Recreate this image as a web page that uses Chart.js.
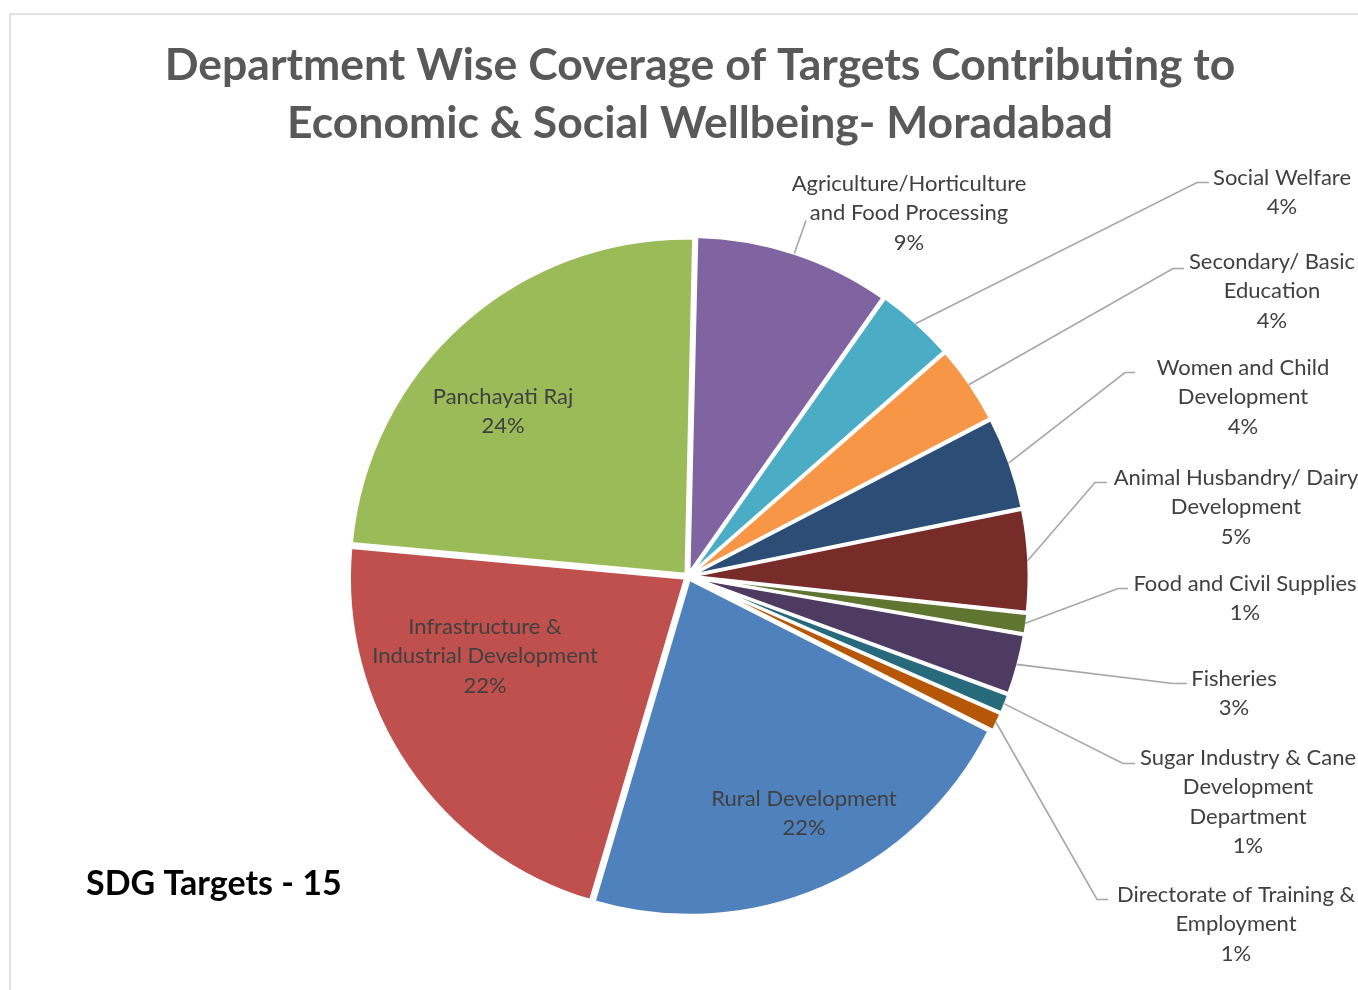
<!DOCTYPE html>
<html><head><meta charset="utf-8">
<script src="https://cdn.jsdelivr.net/npm/chart.js@4"></script>
<style>html,body{margin:0;padding:0;background:#fff}#wrap{position:relative;width:1358px;height:990px}</style>
</head><body><div id="wrap"><canvas id="c"></canvas></div>
<script>
// ---- data ----
const departments = [
  ["Agriculture/Horticulture", "and Food Processing"],
  ["Social Welfare"],
  ["Secondary/ Basic", "Education"],
  ["Women and Child", "Development"],
  ["Animal Husbandry/ Dairy", "Development"],
  ["Food and Civil Supplies"],
  ["Fisheries"],
  ["Sugar Industry & Cane", "Development", "Department"],
  ["Directorate of Training &", "Employment"],
  ["Rural Development"],
  ["Infrastructure &", "Industrial Development"],
  ["Panchayati Raj"]
];
const shares = [9.4, 3.8, 3.8, 4.45, 4.9, 1.0, 2.9, 0.95, 0.9, 22.1, 21.9, 23.9];
const colors = ["#8064A2", "#4BACC6", "#F79646", "#2C4D75", "#772C2A", "#5F7530",
                "#4D3B62", "#276A7C", "#B65708", "#4F81BD", "#C0504D", "#9BBB59"];
const titleLines = ["Department Wise Coverage of Targets Contributing to",
                    "Economic & Social Wellbeing- Moradabad"];
const noteText = "SDG Targets - 15";

// ---- label placement (relative to pie centre) ----
const labelLayout = [
  {cx: 221, cy: -394, elbow: [118, -356], end: 118},
  {cx: 594, cy: -400, elbow: [509, -394], end: 521},
  {cx: 584, cy: -316, elbow: [485, -308], end: 496},
  {cx: 555, cy: -210, elbow: [437, -204], end: 447},
  {cx: 548, cy: -100, elbow: [407, -94], end: 419},
  {cx: 557, cy: 6, elbow: [430, 12], end: 440},
  {cx: 546, cy: 101, elbow: [485, 107], end: 499},
  {cx: 560, cy: 180, elbow: [435, 187], end: 447},
  {cx: 548, cy: 317, elbow: [409, 323], end: 420},
  {cx: 116, cy: 221},
  {cx: -203, cy: 49},
  {cx: -185, cy: -181}
];

const LABEL_FONT = '22px Lato';
const LINE_H = 29.5;

const decorPlugin = {
  id: 'decor',
  beforeDraw(chart) {
    const ctx = chart.ctx;
    ctx.save();
    ctx.strokeStyle = '#D9D9D9';
    ctx.lineWidth = 1.5;
    ctx.beginPath();
    ctx.moveTo(10, 990); ctx.lineTo(10, 14); ctx.lineTo(1358, 14);
    ctx.stroke();
    ctx.fillStyle = '#595959';
    ctx.font = 'bold 44.5px Lato';
    ctx.textAlign = 'center';
    ctx.textBaseline = 'alphabetic';
    ctx.fillText(titleLines[0], 700, 80);
    ctx.fillText(titleLines[1], 700, 138);
    ctx.fillStyle = '#000000';
    ctx.font = 'bold 34px Lato';
    ctx.textAlign = 'left';
    ctx.fillText(noteText, 86, 895);
    ctx.restore();
  },
  afterDatasetsDraw(chart) {
    const ctx = chart.ctx;
    const meta = chart.getDatasetMeta(0);
    const total = shares.reduce((a, b) => a + b, 0);
    ctx.save();
    meta.data.forEach((arc, i) => {
      const L = labelLayout[i];
      const ox = arc.x, oy = arc.y;
      if (L.elbow) {
        const mid = (arc.startAngle + arc.endAngle) / 2;
        const r = arc.outerRadius + 4;
        ctx.strokeStyle = '#A6A6A6';
        ctx.lineWidth = 1.6;
        ctx.beginPath();
        ctx.moveTo(ox + Math.cos(mid) * r, oy + Math.sin(mid) * r);
        ctx.lineTo(ox + L.elbow[0], oy + L.elbow[1]);
        ctx.lineTo(ox + L.end, oy + L.elbow[1]);
        ctx.stroke();
      }
      const lines = departments[i].concat([Math.round(shares[i] / total * 100) + '%']);
      ctx.fillStyle = '#404040';
      ctx.font = LABEL_FONT;
      ctx.textAlign = 'center';
      ctx.textBaseline = 'alphabetic';
      lines.forEach((t, k) => {
        ctx.fillText(t, ox + L.cx, oy + L.cy + 8 + k * LINE_H);
      });
    });
    ctx.restore();
  }
};

new Chart(document.getElementById('c'), {
  type: 'pie',
  data: {
    labels: departments.map(d => d.join(' ')),
    datasets: [{
      data: shares,
      backgroundColor: colors,
      borderColor: '#FFFFFF',
      borderWidth: 3,
      offset: 12
    }]
  },
  options: {
    responsive: true,
    maintainAspectRatio: false,
    animation: false,
    rotation: 1.3,
    radius: 336,
    layout: {padding: {left: 18, right: 0, top: 163, bottom: 0}},
    plugins: {
      legend: {display: false},
      title: {display: false},
      tooltip: {enabled: false}
    },
    events: []
  },
  plugins: [decorPlugin]
});
</script>
</body></html>
